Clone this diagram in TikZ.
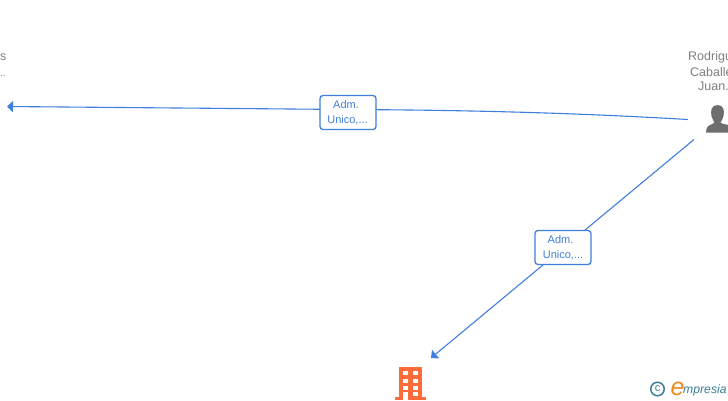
\documentclass[tikz,border=0pt]{standalone}
\usepackage{fontspec}
\setmainfont{Liberation Sans}
\definecolor{edgeblue}{HTML}{3F7FDD}
\definecolor{greytxt}{HTML}{808080}
\definecolor{personc}{HTML}{6E6E6E}
\definecolor{bldg}{HTML}{FF6B3A}
\definecolor{logoteal}{HTML}{3C7F96}
\definecolor{logoor}{HTML}{F08A1D}
\usetikzlibrary{arrows.meta}
\tikzset{
  edgeline/.style={draw=edgeblue,line width=1.1pt},
  tip/.style={-{Triangle[length=6pt,width=11pt]}},
  rolebox/.style={draw=edgeblue,line width=1.3pt,fill=white,rounded corners=3pt,minimum width=56pt,minimum height=34pt,inner sep=0pt},
  roletxt/.style={text=edgeblue,inner sep=0pt,font=\fontsize{11}{11}\selectfont},
  nametxt/.style={text=greytxt,font=\fontsize{12.5}{16}\selectfont,inner sep=0pt,anchor=base west},
}
\begin{document}
\begin{tikzpicture}[x=1pt,y=-1pt]
\useasboundingbox (0,0) rectangle (728,400);
\fill[white] (0,0) rectangle (728,400);
% coordinates
\coordinate (pa) at (688,119.5);
\coordinate (pb) at (694,139.5);
\coordinate (leftend) at (7,106.5);
\coordinate (bldgend) at (431,358);
% labels
\node[nametxt] (n1) at (0,60.5) {s};
\node[nametxt,font=\fontsize{10}{10}\selectfont] (n2) at (0,76) {..};
\node[nametxt] (r1) at (688,60.5) {Rodrigu};
\node[nametxt] (r2) at (690,76) {Caballe};
\node[nametxt] (r3) at (698,90) {Juan.};
% connectors
\draw[edgeline,tip] (pa) .. controls (560,112) and (450,110) .. (348,109.5) -- (leftend);
\draw[edgeline,tip] (pb) -- (bldgend);
\node[rolebox] (b1) at (348,112.5) {};
\node[rolebox] (b2) at (563,247.5) {};
\node[roletxt] (t1a) at (346,104.5) {Adm.};
\node[roletxt] (t1b) at (347.5,120.5) {Unico,...};
\node[roletxt] (t2a) at (560.5,239.5) {Adm.};
\node[roletxt] (t2b) at (563,255.5) {Unico,...};
% person
\fill[personc] (717.5,105) .. controls (711,105) and (710.5,111) .. (711.5,116) .. controls (712,119) and (714,121) .. (714.5,122.5) .. controls (712,125) and (707,125) .. (706.5,129) -- (706,132.5) -- (729,132.5) -- (729,125) .. controls (726,124.5) and (722,124) .. (720.5,122.5) .. controls (721.5,120.5) and (723,119) .. (723.5,116) .. controls (724.5,111) and (724,105) .. (717.5,105) -- cycle;
% building
\fill[bldg] (399,367) rectangle (421.5,397);
\fill[bldg] (394.5,397) rectangle (426,400);
\foreach \y in {371,378.5,385.5}{
  \fill[white] (403,\y) rectangle (408,\y+4);
  \fill[white] (412.5,\y) rectangle (417.5,\y+4);
}
\fill[white] (412.5,392) rectangle (417.5,396);
\fill[white] (403,391.5) rectangle (408,400);
% logo
\node[circle,draw=logoteal,line width=1.5pt,minimum size=13.5pt,inner sep=0pt,text=logoteal,font=\fontsize{11}{11}\selectfont] (copyr) at (657.5,389) {c};
\node[text=logoor,inner sep=0pt,anchor=base west,font=\fontsize{25}{25}\selectfont\itshape] (logoe) at (670.5,395.5) {e};
\node[text=logoteal,inner sep=0pt,anchor=base west,font=\fontsize{12.2}{13}\selectfont\itshape] (logot) at (683,393) {mpresia};
\end{tikzpicture}
\end{document}
